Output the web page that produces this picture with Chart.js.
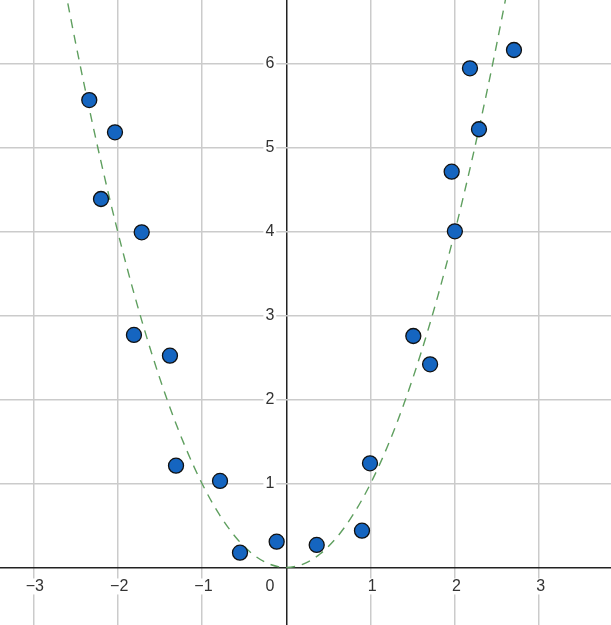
<!DOCTYPE html>
<html>
<head>
<meta charset="utf-8">
<script src="https://cdn.jsdelivr.net/npm/chart.js@4/dist/chart.umd.min.js"></script>
<style>
  html, body { margin: 0; padding: 0; background: #fff; }
  #wrap { width: 611px; height: 625px; position: relative; }
</style>
</head>
<body>
<div id="wrap"><canvas id="chart"></canvas></div>
<script>
// scatter samples
const pointX = [-2.337, -2.032, -2.198, -1.715, -1.807, -1.380, -1.308, -0.786, -0.549, -0.114,
                0.361, 0.898, 0.993, 1.507, 1.706, 1.962, 2.000, 2.179, 2.286, 2.701];
const pointY = [5.565, 5.181, 4.387, 3.990, 2.768, 2.521, 1.212, 1.030, 0.176, 0.307,
                0.268, 0.438, 1.240, 2.756, 2.419, 4.712, 4.002, 5.943, 5.217, 6.161];

// dashed reference curve
const curveX = [-2.8, -2.6, -2.4, -2.2, -2.0, -1.8, -1.6, -1.4, -1.2, -1.0, -0.8, -0.6, -0.4, -0.2, 0,
                0.2, 0.4, 0.6, 0.8, 1.0, 1.2, 1.4, 1.6, 1.8, 2.0, 2.2, 2.4, 2.6, 2.8];
const curveY = [7.84, 6.76, 5.76, 4.84, 4.00, 3.24, 2.56, 1.96, 1.44, 1.00, 0.64, 0.36, 0.16, 0.04, 0,
                0.04, 0.16, 0.36, 0.64, 1.00, 1.44, 1.96, 2.56, 3.24, 4.00, 4.84, 5.76, 6.76, 7.84];

const xTickLabels = [-3, -2, -1, 1, 2, 3];
const yTickLabels = [1, 2, 3, 4, 5, 6];
const originLabel = '0';

const fmt = v => (v < 0 ? '\u2212' + Math.abs(v) : String(v));

const axisLabels = {
  id: 'axisLabels',
  beforeDatasetsDraw(chart) {
    const ctx = chart.ctx;
    const xs = chart.scales.x, ys = chart.scales.y;
    const x0 = xs.getPixelForValue(0), y0 = ys.getPixelForValue(0);
    ctx.save();
    ctx.font = '16px "Liberation Sans", Arial, sans-serif';
    ctx.textBaseline = 'middle';

    const label = (txt, x, y, align) => {
      ctx.textAlign = align;
      const w = ctx.measureText(txt).width;
      const left = align === 'center' ? x - w / 2 : x - w;
      ctx.fillStyle = '#fff';
      ctx.fillRect(left - 2, y - 8, w + 4, 16);
      ctx.fillStyle = '#333';
      ctx.fillText(txt, x, y);
    };

    xTickLabels.forEach(v => label(fmt(v), xs.getPixelForValue(v) + 1.5, y0 + 19, 'center'));
    yTickLabels.forEach(v => label(fmt(v), x0 - 12, ys.getPixelForValue(v) + 0.5, 'right'));
    label(originLabel, x0 - 12, y0 + 19, 'right');
    ctx.restore();
  }
};

const gridColor = c => (c.tick && c.tick.value === 0 ? '#222' : '#cbcbcb');

new Chart(document.getElementById('chart'), {
  type: 'scatter',
  data: {
    datasets: [
      {
        data: pointX.map((x, i) => ({ x: x, y: pointY[i] })),
        backgroundColor: '#1565c0',
        borderColor: '#111',
        borderWidth: 1.3,
        pointRadius: 7.5,
        pointHoverRadius: 7.5
      },
      {
        type: 'line',
        data: curveX.map((x, i) => ({ x: x, y: curveY[i] })),
        borderColor: '#5f9f5f',
        borderWidth: 1.4,
        borderDash: [9, 7],
        pointRadius: 0,
        fill: false,
        cubicInterpolationMode: 'monotone'
      }
    ]
  },
  options: {
    responsive: true,
    maintainAspectRatio: false,
    animation: false,
    layout: { padding: 0, autoPadding: false },
    plugins: { legend: { display: false }, tooltip: { enabled: false } },
    scales: {
      x: {
        type: 'linear',
        min: -3.396,
        max: 3.852,
        ticks: { display: false, stepSize: 1, includeBounds: false },
        grid: { drawTicks: false, color: gridColor, lineWidth: 1.5 },
        border: { display: false }
      },
      y: {
        type: 'linear',
        min: -0.685,
        max: 6.756,
        ticks: { display: false, stepSize: 1, includeBounds: false },
        grid: { drawTicks: false, color: gridColor, lineWidth: 1.5 },
        border: { display: false }
      }
    }
  },
  plugins: [axisLabels]
});
</script>
</body>
</html>
